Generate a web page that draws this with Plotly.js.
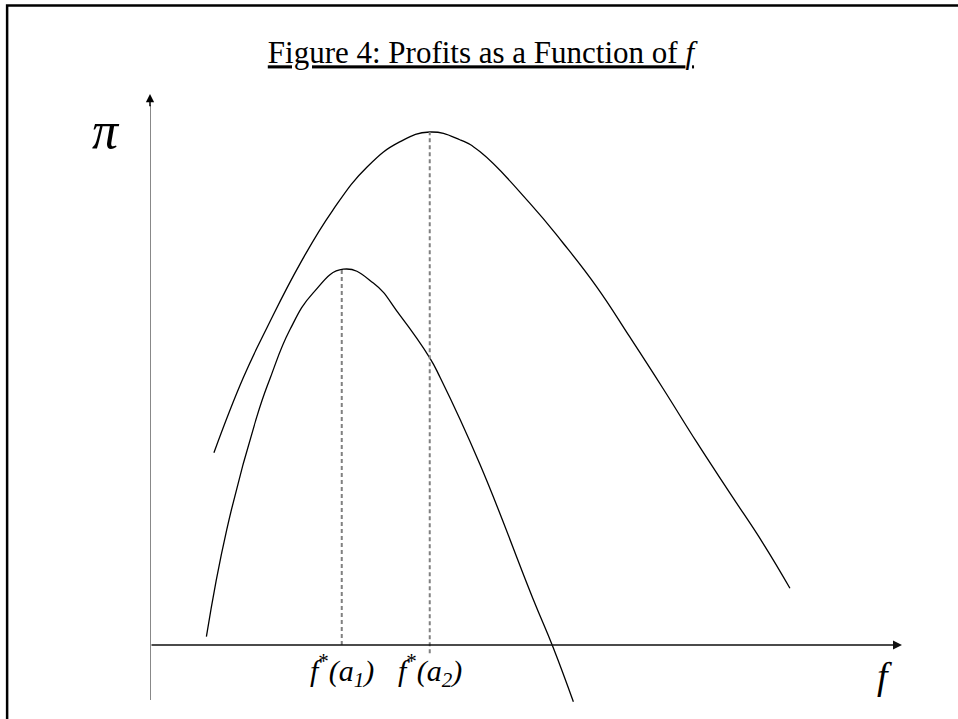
<!DOCTYPE html>
<html>
<head>
<meta charset="utf-8">
<script src="https://cdn.plot.ly/plotly-3.0.1.min.js"></script>
<style>html,body{margin:0;padding:0;background:#fff;}#chart{width:958px;height:719px;}</style>
</head>
<body>
<div id="chart"></div>
<script>
// Outer curve: profits for a2 (larger peak)
const outerF  = [0.85, 1.24, 1.56, 2.00, 2.43, 2.89, 3.32, 3.72, 4.12, 4.39, 5.05, 5.49, 5.94, 6.38, 6.82, 7.27, 7.71, 8.15, 8.51];
const outerPi = [3.49, 4.85, 5.77, 6.93, 7.89, 8.68, 9.13, 9.31, 9.17, 8.95, 8.02, 7.30, 6.50, 5.59, 4.66, 3.68, 2.76, 1.85, 1.03];
// Inner curve: profits for a1
const innerF  = [0.75, 1.02, 1.42, 1.60, 1.86, 2.17, 2.57, 2.97, 3.32, 3.72, 3.86, 4.39, 5.09, 5.36, 5.63];
const innerPi = [0.15, 2.09, 4.14, 4.85, 5.72, 6.39, 6.82, 6.57, 5.99, 5.21, 4.85, 3.27, 0.85, -0.04, -1.03];
// Optimal f values and their peak profits
const dropF   = [2.55, 3.72];
const dropTop = [6.82, 9.31];
const dropBot = [0, -0.15];
const dropLabels = ['<i>f</i><sup>*</sup><i>(a<sub>1</sub>)</i>', '<i>f</i><sup>*</sup><i>(a<sub>2</sub>)</i>'];
const titleText = '<u>Figure 4: Profits as a Function of <i>f</i></u>';
const xLabel = '<i>f</i>';
const yLabel = '<i>π</i>';

const serif = 'Liberation Serif, Times New Roman, serif';

const traces = [
  {x: outerF, y: outerPi, mode: 'lines', line: {color: '#000', width: 1.3, shape: 'spline', smoothing: 1.3}, hoverinfo: 'skip'},
  {x: innerF, y: innerPi, mode: 'lines', line: {color: '#000', width: 1.3, shape: 'spline', smoothing: 1.3}, hoverinfo: 'skip'}
];
dropF.forEach((f, i) => {
  traces.push({x: [f, f], y: [dropBot[i], dropTop[i]], mode: 'lines',
    line: {color: '#808080', width: 2, dash: '4px,3px'}, hoverinfo: 'skip'});
});

const annotations = [
  // x axis arrow
  {x: 10, y: 0, ax: 0, ay: 0, xref: 'x', yref: 'y', axref: 'x', ayref: 'y', text: '',
   showarrow: true, arrowhead: 2, arrowsize: 1.2, arrowwidth: 1.5, arrowcolor: '#111', standoff: 0},
  // y axis arrowhead
  {x: 0, y: 10, ax: 0, ay: 9.75, xref: 'x', yref: 'y', axref: 'x', ayref: 'y', text: '',
   showarrow: true, arrowhead: 2, arrowsize: 1.1, arrowwidth: 1.5, arrowcolor: '#000', standoff: 0},
  // axis labels
  {x: 9.77, y: 0, xref: 'x', yref: 'y', yshift: -31, text: xLabel, showarrow: false,
   font: {family: serif, size: 38, color: '#000'}},
  {x: -0.08, y: 0.99, xref: 'paper', yref: 'paper', text: yLabel, showarrow: false,
   font: {family: serif, size: 52, color: '#000'}}
];
dropF.forEach((f, i) => {
  annotations.push({x: f, y: 0, xref: 'x', yref: 'y', yshift: -26, text: dropLabels[i], showarrow: false,
    font: {family: serif, size: 30, color: '#000'}});
});

const shapes = [
  // y axis shaft
  {type: 'line', xref: 'x', yref: 'y', x0: 0, x1: 0, y0: -1.0, y1: 9.8, line: {color: '#888', width: 2}},
  // frame
  {type: 'rect', xref: 'paper', yref: 'paper', x0: -0.19, x1: 1.6, y0: -0.6, y1: 1.1437,
   line: {color: '#000', width: 2.5}, layer: 'below'}
];

const layout = {
  width: 958, height: 719,
  margin: {l: 150, r: 56, t: 94, b: 9},
  paper_bgcolor: '#fff', plot_bgcolor: 'rgba(0,0,0,0)',
  showlegend: false,
  title: {text: titleText, x: 0.502, xref: 'container', xanchor: 'center', y: 0.927, yref: 'container', yanchor: 'middle',
    font: {family: serif, size: 31, color: '#000'}},
  xaxis: {range: [0, 10], visible: false, fixedrange: true},
  yaxis: {range: [-1.18, 10], visible: false, fixedrange: true},
  annotations: annotations,
  shapes: shapes
};

Plotly.newPlot('chart', traces, layout, {displayModeBar: false, staticPlot: true});
</script>
</body>
</html>
